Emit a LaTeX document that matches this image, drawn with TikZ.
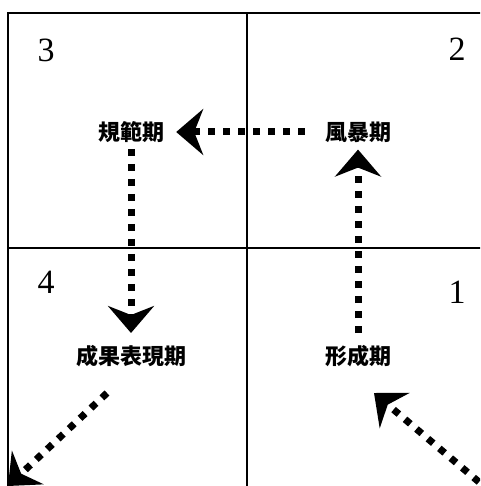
\documentclass[tikz,border=0pt]{standalone}
\usepackage{fontspec}
\setmainfont{Liberation Serif}
\newfontfamily\cjk{Noto Sans CJK TC}
\usetikzlibrary{arrows.meta}
\begin{document}
\begin{tikzpicture}[x=1pt,y=-1pt,
  grid/.style={line width=1.8pt},
  phase/.style={font=\cjk\bfseries\fontsize{22}{24}\selectfont, inner sep=0pt},
  quadnum/.style={font=\fontsize{34}{36}\selectfont, inner sep=0pt},
  flow/.style={line width=7pt, dash pattern=on 7pt off 8pt,
    -{Stealth[length=27pt, width=46pt, inset=9pt]}}]
  \useasboundingbox (0,0) rectangle (480,486);
  \clip (0,0) rectangle (480,486);

  % quadrant grid
  \draw[grid] (8,13) rectangle (530,530);
  \draw[grid] (247,13) -- (247,530);
  \draw[grid] (8,248) -- (530,248);

  % quadrant numbers
  \node[quadnum] (q3) at (46,50) {3};
  \node[quadnum] (q2) at (457,49) {2};
  \node[quadnum] (q4) at (46,282) {4};
  \node[quadnum] (q1) at (457,292) {1};

  % phases
  \node[phase] (norm)    at (131,132) {規範期};
  \node[phase] (storm)   at (358,132) {風暴期};
  \node[phase] (achieve) at (131,356) {成果表現期};
  \node[phase] (form)    at (358,356) {形成期};

  % free ends of the lead-in and lead-out arrows
  \coordinate (inStart)  at (479,482);
  \coordinate (inEnd)    at (374,393);
  \coordinate (outStart) at (107,393);
  \coordinate (outEnd)   at (8,486);

  % transitions
  \draw[flow] (inStart) -- (inEnd);
  \draw[flow, shorten <=12pt, shorten >=7pt] (form.north) -- (storm.south);
  \draw[flow, shorten <=20pt, shorten >=12pt] (storm.west) -- (norm.east);
  \draw[flow, shorten <=6pt, shorten >=12pt] (norm.south) -- (achieve.north);
  \draw[flow] (outStart) -- (outEnd);
\end{tikzpicture}
\end{document}
